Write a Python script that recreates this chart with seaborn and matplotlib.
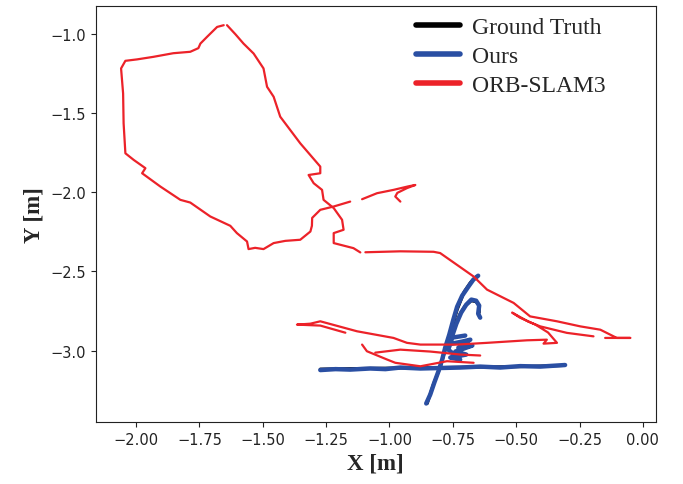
import pandas as pd
import matplotlib.pyplot as plt
import seaborn as sns
from matplotlib.lines import Line2D

# trajectory pieces (metres), one list pair per unbroken segment
gt_x = [
    [-1.273, -1.115, -0.957, -0.800, -0.642, -0.484, -0.314],
    [-0.851, -0.827, -0.800, -0.780, -0.756, -0.733, -0.705, -0.681, -0.658],
    [-0.760, -0.740, -0.721, -0.701, -0.677, -0.658, -0.646, -0.646],
]
gt_y = [
    [-3.117, -3.113, -3.110, -3.107, -3.104, -3.101, -3.094],
    [-3.334, -3.214, -3.107, -2.994, -2.868, -2.742, -2.628, -2.571, -2.534],
    [-2.918, -2.836, -2.767, -2.716, -2.685, -2.691, -2.716, -2.760],
]

ours_x = [
    [-1.273, -1.213, -1.155, -1.076, -1.016, -0.957, -0.878, -0.800, -0.721, -0.642, -0.563, -0.484, -0.405, -0.307],
    [-0.855, -0.839, -0.823, -0.807, -0.792, -0.780, -0.764, -0.748, -0.733, -0.713, -0.689, -0.669, -0.650],
    [-0.772, -0.713, -0.681, -0.728, -0.673, -0.740, -0.697, -0.760, -0.721, -0.768, -0.752, -0.701],
    [-0.752, -0.736, -0.717, -0.697, -0.677, -0.658, -0.646, -0.650, -0.642],
]
ours_y = [
    [-3.123, -3.117, -3.120, -3.113, -3.117, -3.107, -3.113, -3.110, -3.107, -3.101, -3.107, -3.098, -3.101, -3.091],
    [-3.334, -3.277, -3.202, -3.132, -3.057, -2.981, -2.899, -2.805, -2.723, -2.653, -2.597, -2.552, -2.527],
    [-2.962, -2.943, -2.931, -2.981, -2.968, -3.006, -3.025, -3.044, -3.057, -2.994, -2.918, -2.905],
    [-2.905, -2.830, -2.760, -2.710, -2.678, -2.685, -2.716, -2.767, -2.792],
]

orb_x = [
    [-0.957, -0.977, -0.969, -0.931, -0.898, -0.926, -0.984, -1.049, -1.108],
    [-1.155, -1.220, -1.273, -1.305, -1.306, -1.312, -1.352, -1.411, -1.457, -1.497, -1.530, -1.556,
     -1.562, -1.602, -1.628, -1.707, -1.786, -1.825, -1.904, -1.976, -1.963, -2.009, -2.042, -2.049,
     -2.051, -2.059, -2.042, -1.996, -1.932, -1.853, -1.786, -1.754, -1.746, -1.720, -1.680, -1.654],
    [-1.641, -1.608, -1.576, -1.536, -1.497, -1.483, -1.457, -1.431, -1.352, -1.273, -1.273, -1.319,
     -1.299, -1.266, -1.260, -1.220, -1.187, -1.181, -1.220, -1.220, -1.142, -1.115],
    [-1.095, -0.957, -0.826, -0.800, -0.668, -0.615, -0.510, -0.445, -0.339, -0.247, -0.168, -0.103,
     -0.050, -0.149],
    [-0.195, -0.300, -0.405, -0.452, -0.516, -0.485, -0.424, -0.374, -0.339, -0.392, -0.379, -0.458,
     -0.615, -0.734, -0.878, -0.931, -0.984, -1.128, -1.273, -1.312, -1.365, -1.273, -1.174],
    [-1.108, -1.089, -1.010, -0.977, -0.878, -0.773, -0.668],
    [-1.056, -0.957, -0.839, -0.720, -0.642],
]
orb_y = [
    [-2.059, -2.027, -2.004, -1.974, -1.954, -1.963, -1.985, -2.006, -2.044],
    [-2.059, -2.090, -2.111, -2.162, -2.212, -2.248, -2.300, -2.307, -2.321, -2.359, -2.351, -2.359,
     -2.311, -2.258, -2.212, -2.153, -2.065, -2.048, -1.964, -1.880, -1.848, -1.796, -1.754, -1.565,
     -1.376, -1.218, -1.170, -1.161, -1.145, -1.122, -1.113, -1.090, -1.061, -1.019, -0.956, -0.945],
    [-0.945, -1.002, -1.061, -1.124, -1.218, -1.334, -1.397, -1.523, -1.691, -1.838, -1.880, -1.891,
     -1.943, -1.985, -2.048, -2.100, -2.174, -2.237, -2.258, -2.321, -2.353, -2.380],
    [-2.379, -2.373, -2.376, -2.384, -2.532, -2.615, -2.699, -2.784, -2.815, -2.847, -2.868, -2.920,
     -2.920, -2.920],
    [-2.910, -2.888, -2.847, -2.817, -2.760, -2.792, -2.836, -2.886, -2.951, -2.956, -2.931, -2.935,
     -2.951, -2.962, -2.962, -2.951, -2.920, -2.878, -2.815, -2.830, -2.836, -2.842, -2.887],
    [-2.962, -3.004, -3.056, -3.077, -3.099, -3.067, -3.077],
    [-3.013, -2.994, -3.006, -3.025, -3.031],
]

labels = ["Ground Truth", "Ours", "ORB-SLAM3"]
colors = ["#000000", "#2a4fa3", "#ec2229"]


def to_frame(xs, ys):
    rows = []
    for seg, (sx, sy) in enumerate(zip(xs, ys)):
        for x, y in zip(sx, sy):
            rows.append({"x": x, "y": y, "seg": seg})
    return pd.DataFrame(rows)


sns.set_style("ticks")
plt.rcParams['font.family'] = ['DejaVu Sans']
fig, ax = plt.subplots(figsize=(6.83, 4.85), dpi=100)
fig.subplots_adjust(left=0.140, right=0.960, bottom=0.127, top=0.985)

widths = [2.2, 3.2, 1.6]
for xs, ys, c, lw in zip([gt_x, ours_x, orb_x], [gt_y, ours_y, orb_y], colors, widths):
    sns.lineplot(data=to_frame(xs, ys), x="x", y="y", units="seg", estimator=None,
                 sort=False, color=c, linewidth=lw, ax=ax)

ax.set_xticks([-2.0, -1.75, -1.5, -1.25, -1.0, -0.75, -0.5, -0.25, 0.0])
ax.set_yticks([-3.0, -2.5, -2.0, -1.5, -1.0])
ax.set_xticklabels(["\u22122.00", "\u22121.75", "\u22121.50", "\u22121.25", "\u22121.00",
                    "\u22120.75", "\u22120.50", "\u22120.25", "0.00"])
ax.tick_params(labelsize=10.5, colors="#222222")
ax.set_xlabel("X [m]", family="Liberation Serif", fontsize=16.5, fontweight="bold")
ax.set_ylabel("Y [m]", family="Liberation Serif", fontsize=16.5, fontweight="bold")
for s in ax.spines.values():
    s.set_color("#222222")

handles = [Line2D([0], [0], color=c, lw=4) for c in colors]
ax.legend(handles, labels, loc="upper right", bbox_to_anchor=(0.949, 1.027), frameon=False,
          prop={"family": "Liberation Serif", "size": 17}, handlelength=1.9,
          handletextpad=0.5, labelspacing=0.33)

plt.savefig("out.png", dpi=100)
